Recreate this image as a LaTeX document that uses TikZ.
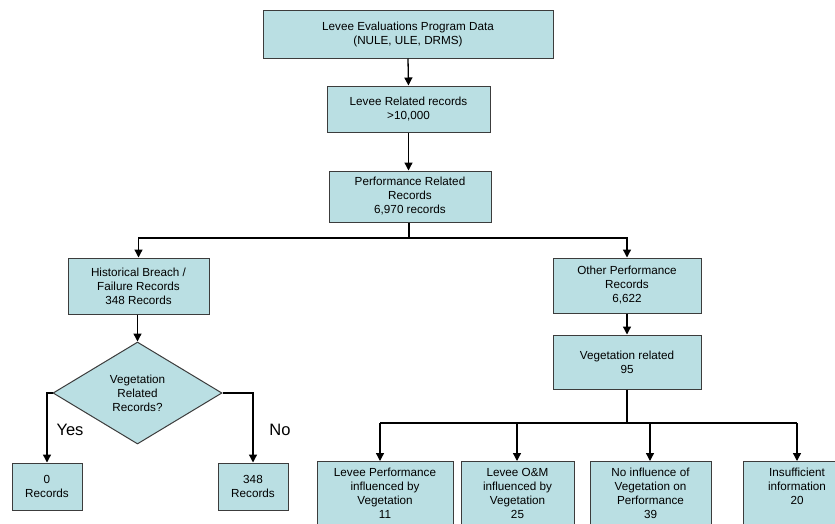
\documentclass[tikz,border=0pt]{standalone}
\usepackage{fontspec}
\setmainfont{Liberation Sans}
\usetikzlibrary{shapes.geometric,arrows.meta}
\definecolor{boxfill}{RGB}{186,223,227}
\definecolor{boxline}{RGB}{60,60,60}
\tikzset{
  box/.style={draw=boxline, fill=boxfill, line width=1pt, align=center, inner sep=0pt,
    font=\fontsize{11.7}{14}\selectfont},
  lowbox/.style={box, anchor=north, inner ysep=7pt, inner xsep=0pt},
  decision/.style={draw=boxline, fill=boxfill, line width=1pt, shape=diamond, align=center,
    inner sep=0pt, minimum width=169pt, minimum height=102pt, aspect=1.66,
    font=\fontsize{11.7}{14}\selectfont},
  conn/.style={line width=1.3pt, draw=black, -{Triangle[length=8pt,width=8pt]}},
  plain/.style={line width=1.3pt, draw=black},
  answer/.style={font=\fontsize{16.5}{18}\selectfont}
}
\begin{document}
\begin{tikzpicture}[x=1pt,y=-1pt]
\useasboundingbox (0,0) rectangle (835,523);
\clip (0,0) rectangle (835,523);
\fill[white] (0,0) rectangle (835,523);

\node[box, minimum width=290pt, minimum height=48pt] (top) at (408,34) {Levee Evaluations Program Data\\(NULE, ULE, DRMS)};
\node[box, minimum width=163pt, minimum height=46pt] (lev) at (408.5,109) {Levee Related records\\>10,000};
\node[box, minimum width=162pt, minimum height=51pt] (perf) at (410,196.5) {Performance Related\\Records\\6,970 records};
\node[box, minimum width=141pt, minimum height=56pt] (hist) at (138.5,286) {Historical Breach /\\Failure Records\\348 Records};
\node[box, minimum width=148pt, minimum height=55pt] (other) at (627,285.5) {Other Performance\\Records\\6,622};
\node[box, minimum width=148pt, minimum height=54pt] (veg) at (627,362) {Vegetation related\\95};
\node[decision] (dia) at (137.5,393) {Vegetation\\Related\\Records?};
\node[box, minimum width=70pt, minimum height=47pt] (zero) at (47,486.5) {0\\Records};
\node[box, minimum width=70pt, minimum height=47pt] (no348) at (253,486.5) {348\\Records};

\node[lowbox, minimum width=136pt] (ba) at (385,461) {Levee Performance\\influenced by\\Vegetation\\11};
\node[lowbox, minimum width=113pt] (bb) at (517.5,461) {Levee O\&M\\influenced by\\Vegetation\\25};
\node[lowbox, minimum width=121pt] (bc) at (650.5,461) {No influence of\\Vegetation on\\Performance\\39};
\node[lowbox, minimum width=108pt] (bd) at (797,461) {Insufficient\\information\\20\\\strut};

\node[answer] (yes) at (70,430) {Yes};
\node[answer] (nolab) at (280,430) {No};

\coordinate (split1) at (409,238);
\coordinate (split2) at (627,423);

\draw[conn] (top.south) -- (lev.north);
\draw[conn] (lev.south) -- (lev.south |- perf.north);
\draw[plain] (perf.south -| split1) -- (split1);
\draw[conn] (split1) -- (138.5,238) -- (hist.north);
\draw[conn] (split1) -- (627,238) -- (other.north);
\draw[conn] (other.south) -- (veg.north);
\draw[conn] (hist.south -| dia.north) -- (dia.north);
\draw[conn] (dia.west) -- (zero.north |- dia.west) -- (zero.north);
\draw[conn] (dia.east) -- (no348.north |- dia.east) -- (no348.north);

\draw[plain] (veg.south) -- (split2);
\draw[plain] (380,423) -- (797,423);
\draw[conn] (380,423) -- (380,461);
\draw[conn] (517,423) -- (517,461);
\draw[conn] (650,423) -- (650,461);
\draw[conn] (797,423) -- (bd.north);
\end{tikzpicture}
\end{document}
